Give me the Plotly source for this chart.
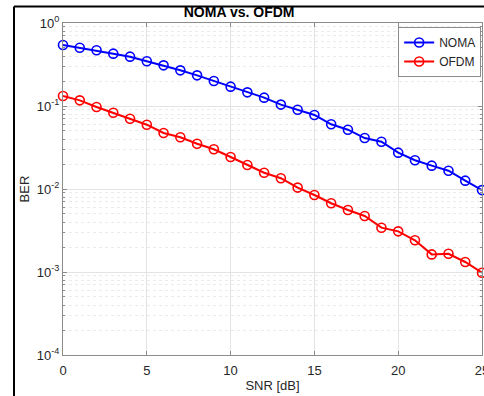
import plotly.graph_objects as go

snr = list(range(0, 26))
noma_ber = [0.543, 0.504, 0.469, 0.427, 0.393, 0.346, 0.309, 0.269, 0.234, 0.200,
            0.171, 0.146, 0.126, 0.104, 0.0902, 0.0779, 0.0602, 0.0518, 0.0411, 0.0371,
            0.0274, 0.0222, 0.0191, 0.0166, 0.0126, 0.0097]
ofdm_ber = [0.132, 0.117, 0.0973, 0.0830, 0.0703, 0.0595, 0.0473, 0.0420, 0.0351, 0.0301,
            0.0243, 0.0195, 0.0157, 0.0135, 0.0104, 0.00847, 0.00673, 0.00559, 0.00473, 0.00342,
            0.00309, 0.00241, 0.00163, 0.00166, 0.00132, 0.00098]
x_ticks = [0, 5, 10, 15, 20, 25]
y_tickvals = [1e-4, 1e-3, 1e-2, 1e-1, 1]
y_ticktext = ["10<sup>-4</sup>", "10<sup>-3</sup>", "10<sup>-2</sup>", "10<sup>-1</sup>", "10<sup>0</sup>"]
minor_vals = [m * 10.0 ** e for e in range(-4, 0) for m in range(2, 10)]

FONT = "Liberation Sans, Arial, sans-serif"
TXT = "#262626"
AX = "#8c8c8c"

fig = go.Figure()
fig.add_trace(go.Scatter(x=snr, y=noma_ber, name="NOMA", mode="lines+markers",
                         line=dict(color="#0000ff", width=2),
                         marker=dict(symbol="circle-open", size=9, color="#0000ff",
                                     line=dict(width=1.6, color="#0000ff")),
                         cliponaxis=False))
fig.add_trace(go.Scatter(x=snr, y=ofdm_ber, name="OFDM", mode="lines+markers",
                         line=dict(color="#ff0000", width=2),
                         marker=dict(symbol="circle-open", size=9, color="#ff0000",
                                     line=dict(width=1.6, color="#ff0000")),
                         cliponaxis=False))

L, R, T, B = 63, 2, 23, 41
W, H = 484, 396
pw, ph = W - L - R, H - T - B

def px(x):
    return (x - L) / pw

def py(y):
    return (H - B - y) / ph

fig.update_layout(
    width=W, height=H,
    margin=dict(l=L, r=R, t=T, b=B, pad=0),
    paper_bgcolor="white", plot_bgcolor="white",
    font=dict(family=FONT, size=13, color=TXT),
    title=dict(text="<b>NOMA vs. OFDM</b>", x=px(270), xanchor="center",
               y=1 - 12 / H, yanchor="middle", font=dict(size=14, color="black")),
    showlegend=True,
    legend=dict(x=0.998, y=0.988, xanchor="right", yanchor="top",
                bgcolor="white", bordercolor=AX, borderwidth=1,
                font=dict(size=12, color=TXT), tracegroupgap=0),
    xaxis=dict(range=[0, 25], tickvals=x_ticks, ticks="inside", ticklen=4,
               tickcolor=AX, showline=True, linecolor=AX, linewidth=1, mirror="ticks",
               showgrid=True, gridcolor="#e3e3e3", gridwidth=1, zeroline=False,
               automargin=False, ticklabeloverflow="allow", ticklabelstandoff=3,
               title=dict(text="SNR [dB]", standoff=4, font=dict(size=13, color=TXT)),
               tickfont=dict(size=13, color=TXT)),
    yaxis=dict(type="log", range=[-4, 0], tickvals=y_tickvals, ticktext=y_ticktext,
               ticks="inside", ticklen=4, tickcolor=AX, showline=True, linecolor=AX,
               linewidth=1, mirror="ticks", showgrid=True, gridcolor="#e3e3e3",
               zeroline=False, automargin=False, ticklabeloverflow="allow",
               minor=dict(tickvals=minor_vals, ticks="inside", ticklen=2, tickcolor=AX,
                          showgrid=True, gridcolor="#ebebeb", griddash="dot"),
               title=dict(text="BER", standoff=4, font=dict(size=13, color=TXT)),
               tickfont=dict(size=13, color=TXT)),
    shapes=[
        dict(type="line", xref="paper", yref="paper", x0=px(14), x1=px(14),
             y0=py(6.5), y1=py(400), line=dict(color="black", width=2)),
        dict(type="line", xref="paper", yref="paper", x0=px(14), x1=px(490),
             y0=py(6.5), y1=py(6.5), line=dict(color="black", width=2)),
    ],
)

fig.write_html("out.html", config={"displayModeBar": False},
               post_script="document.body.style.margin='0';document.body.style.overflow='hidden';")
